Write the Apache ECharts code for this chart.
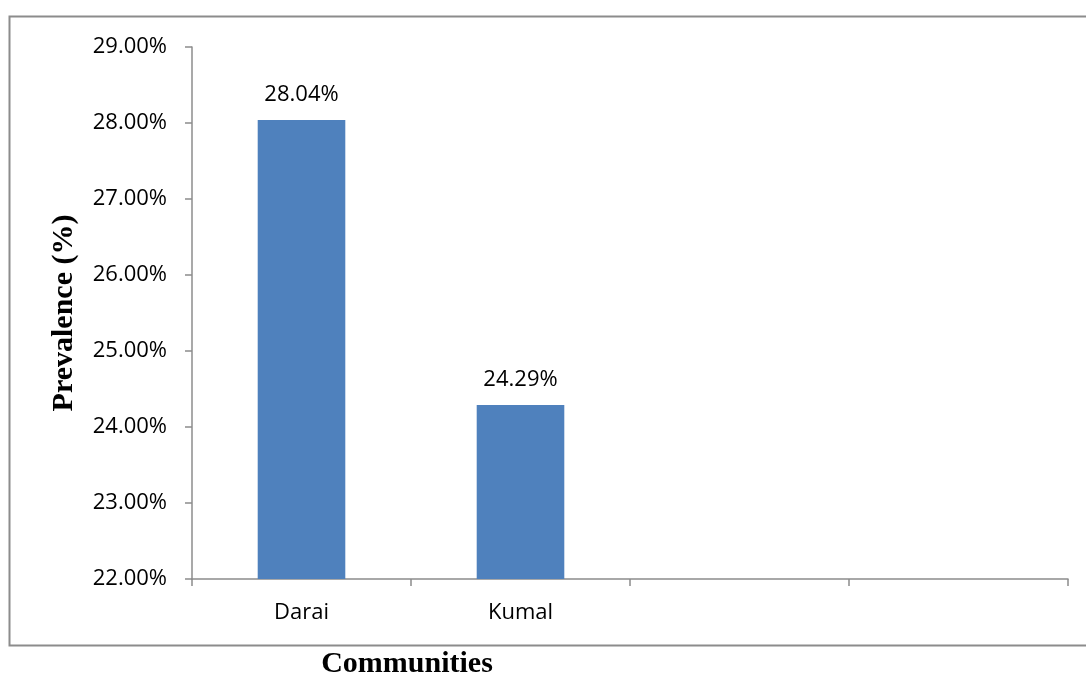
<!DOCTYPE html>
<html>
<head>
<meta charset="utf-8">
<script src="https://cdn.jsdelivr.net/npm/echarts@6/dist/echarts.min.js"></script>
<style>
  html, body { margin: 0; padding: 0; background: #fff; }
  #chart { width: 1086px; height: 675px; }
</style>
</head>
<body>
<div id="chart"></div>
<script>
// categories: the last two slots are empty in the original
const communities = ["Darai", "Kumal", "", ""];
const prevalence = [28.04, 24.29, null, null];
const yMin = 22;
const yMax = 29;

const myChart = echarts.init(document.getElementById("chart"));

const option = {
  animation: false,
  grid: {
    left: 192,
    right: 18,
    top: 47,
    bottom: 96
  },
  graphic: [
    {
      // outer frame (no right edge)
      type: "polyline",
      shape: { points: [[1090, 16.5], [9.5, 16.5], [9.5, 645.5], [1090, 645.5]] },
      style: { stroke: "#8c8c8c", lineWidth: 2, fill: null }
    },
    {
      type: "text",
      x: 407,
      y: 664,
      style: {
        text: "Communities",
        font: "bold 30px 'Liberation Serif'",
        fill: "#000",
        align: "center",
        verticalAlign: "middle"
      }
    }
  ],
  xAxis: {
    type: "category",
    data: communities,
    axisLine: { lineStyle: { color: "#8c8c8c", width: 1.5 } },
    axisTick: { show: true, length: 7, lineStyle: { color: "#8c8c8c", width: 1.5 } },
    axisLabel: {
      color: "#000",
      fontFamily: "Open Sans",
      fontSize: 22,
      margin: 23
    }
  },
  yAxis: {
    type: "value",
    min: yMin,
    max: yMax,
    interval: 1,
    name: "Prevalence (%)",
    nameLocation: "middle",
    nameGap: 113,
    nameTextStyle: {
      fontFamily: "Liberation Serif",
      fontWeight: "bold",
      fontSize: 30,
      color: "#000"
    },
    axisLine: { show: true, lineStyle: { color: "#8c8c8c", width: 1.5 } },
    axisTick: { show: true, length: 7, lineStyle: { color: "#8c8c8c", width: 1.5 } },
    splitLine: { show: false },
    axisLabel: {
      color: "#000",
      fontFamily: "Open Sans",
      fontSize: 22,
      margin: 25,
      formatter: (v) => v.toFixed(2) + "%"
    }
  },
  series: [
    {
      type: "bar",
      data: prevalence,
      barWidth: "40%",
      itemStyle: { color: "#4f81bd" },
      label: {
        show: true,
        position: "top",
        distance: 14,
        color: "#000",
        fontFamily: "Open Sans",
        fontSize: 22,
        formatter: (p) => p.value.toFixed(2) + "%"
      }
    }
  ]
};

myChart.setOption(option);
</script>
</body>
</html>
